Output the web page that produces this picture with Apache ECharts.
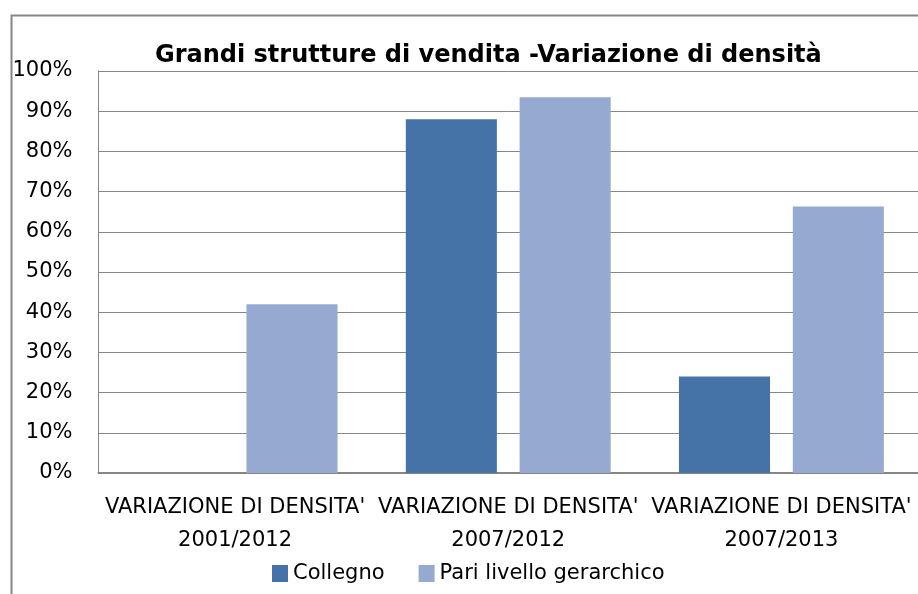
<!DOCTYPE html>
<html>
<head>
<meta charset="utf-8">
<script src="https://cdn.jsdelivr.net/npm/echarts@6/dist/echarts.min.js"></script>
<style>html,body{margin:0;padding:0;background:#fff;}#c{width:918px;height:594px;}</style>
</head>
<body>
<div id="c"></div>
<script>
const titleText = "Grandi strutture di vendita -Variazione di densità";
const categories = ["VARIAZIONE DI DENSITA'\n2001/2012", "VARIAZIONE DI DENSITA'\n2007/2012", "VARIAZIONE DI DENSITA'\n2007/2013"];
const seriesNames = ["Collegno", "Pari livello gerarchico"];
const collegno = [0, 88, 24];
const pariLivello = [42, 93.5, 66.3];
const yMin = 0, yMax = 100, yInterval = 10;

const chart = echarts.init(document.getElementById('c'), null, {renderer: 'canvas'});
const font = 'DejaVu Sans';
chart.setOption({
  animation: false,
  backgroundColor: '#ffffff',
  graphic: [{
    type: 'rect', left: 9, top: 13, silent: true, z: -1,
    shape: {width: 1000, height: 1000},
    style: {fill: 'none', stroke: '#868686', lineWidth: 2}
  }],
  title: {
    text: titleText, left: 150, top: 39,
    textStyle: {fontFamily: font, fontWeight: 'bold', fontSize: 24, color: '#000'}
  },
  legend: {
    data: seriesNames, left: 267, top: 558, itemWidth: 16, itemHeight: 17, itemGap: 34,
    icon: 'rect',
    textStyle: {fontFamily: font, fontSize: 21, color: '#000', padding: [0, 0, 0, 0]}
  },
  grid: {left: 98.5, right: -2.5, top: 71, bottom: 121, containLabel: false},
  xAxis: {
    type: 'category', data: categories,
    axisLine: {lineStyle: {color: '#868686', width: 2}},
    axisTick: {show: false},
    axisLabel: {fontFamily: font, fontSize: 21, color: '#000', margin: 18, lineHeight: 33, interval: 0}
  },
  yAxis: {
    type: 'value', min: yMin, max: yMax, interval: yInterval,
    axisLine: {show: true, lineStyle: {color: '#868686', width: 1}},
    axisTick: {show: false},
    splitLine: {lineStyle: {color: '#868686', width: 1}},
    axisLabel: {fontFamily: font, fontSize: 21, color: '#000', margin: 26, formatter: v => v + '%'}
  },
  series: [
    {name: seriesNames[0], type: 'bar', data: collegno, barGap: '25%', barCategoryGap: '25%', itemStyle: {color: '#4673a7'}},
    {name: seriesNames[1], type: 'bar', data: pariLivello, itemStyle: {color: '#95a9d1'}}
  ]
});
</script>
</body>
</html>
